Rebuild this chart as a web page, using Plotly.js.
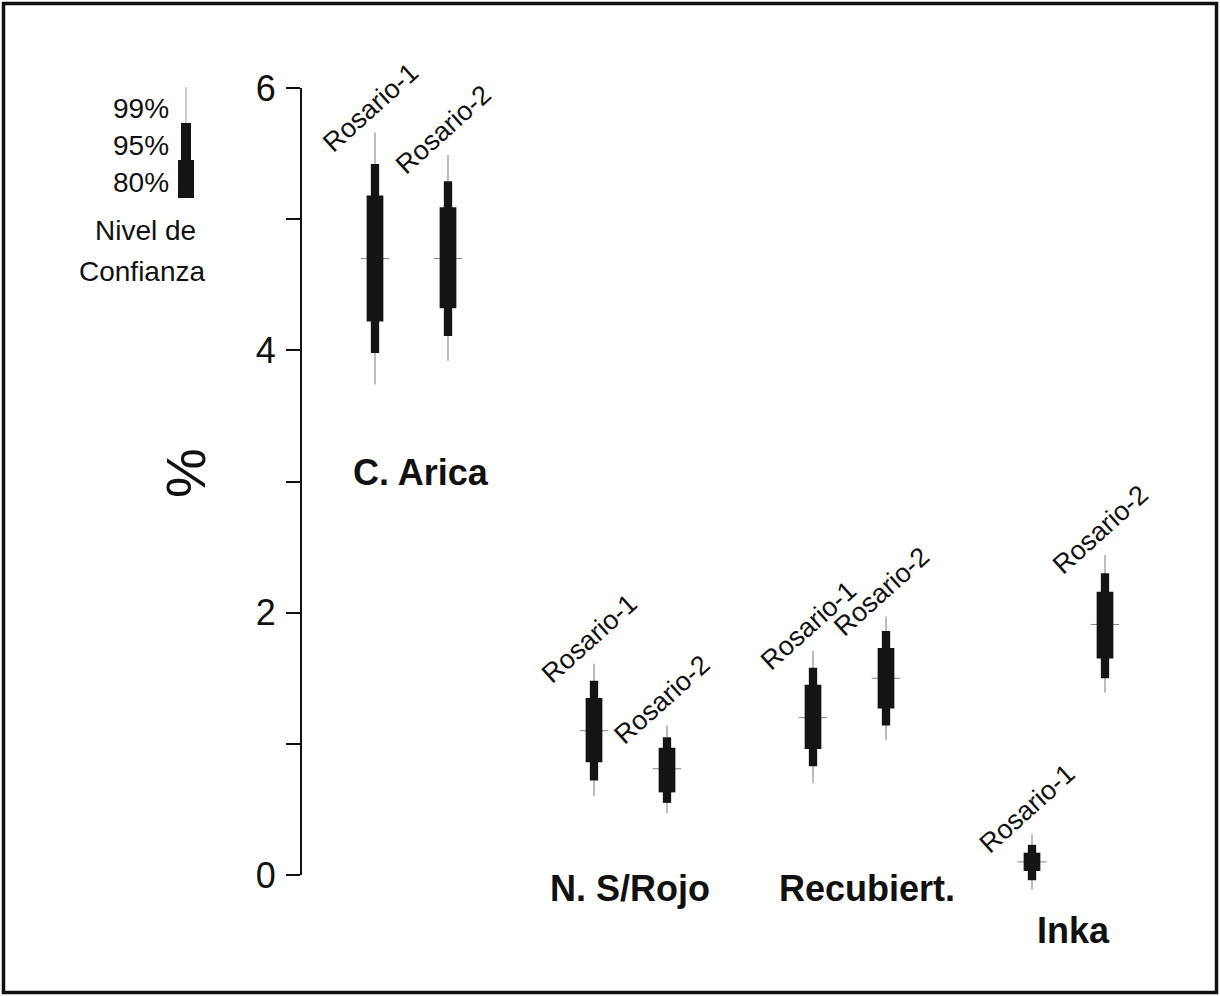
<!DOCTYPE html>
<html>
<head>
<meta charset="utf-8">
<script src="https://cdn.plot.ly/plotly-3.0.1.min.js"></script>
<style>
html,body{margin:0;padding:0;background:#fff;}
#chart{width:1220px;height:996px;}
</style>
</head>
<body>
<div id="chart"></div>
<script>
// ---- data ----
const groups = ['C. Arica', 'N. S/Rojo', 'Recubiert.', 'Inka'];
const samples = ['Rosario-1', 'Rosario-2'];
const yTickVals = [0, 1, 2, 3, 4, 5, 6];
const yTickText = ['0', '', '2', '', '4', '', '6'];
// order: C.Arica R1, R2, N.S/Rojo R1, R2, Recubiert R1, R2, Inka R1, R2
const median = [4.70, 4.70, 1.10, 0.81, 1.20, 1.50, 0.10, 1.91];
const lo80   = [4.22, 4.32, 0.86, 0.63, 0.96, 1.27, 0.03, 1.65];
const hi80   = [5.18, 5.09, 1.35, 0.97, 1.45, 1.73, 0.17, 2.16];
const lo95   = [3.98, 4.11, 0.72, 0.55, 0.83, 1.14, -0.04, 1.50];
const hi95   = [5.42, 5.29, 1.48, 1.05, 1.58, 1.86, 0.23, 2.30];
const lo99   = [3.74, 3.92, 0.60, 0.47, 0.70, 1.03, -0.11, 1.39];
const hi99   = [5.66, 5.49, 1.61, 1.14, 1.71, 1.97, 0.31, 2.44];
const legendLevels = ['99%', '95%', '80%'];

// ---- layout geometry ----
const W = 1220, H = 996;
const M = {l: 301, r: 20, t: 48, b: 82};
const pw = W - M.l - M.r, ph = H - M.t - M.b;
const xRange = [-1.0137, 11.3014];
const yRange = [-0.29733, 6.30495];
const FONT = 'Liberation Sans, Arial, sans-serif';
const px2pX = p => (p - M.l) / pw;
const px2pY = p => (H - M.b - p) / ph;

const xPos = [];
const labels = [];
groups.forEach((g, gi) => samples.forEach((s, si) => { xPos.push(gi * 3 + si); labels.push(s); }));

const diff = (a, b) => a.map((v, i) => v - b[i]);
const baseBar = {type: 'bar', x: xPos, hoverinfo: 'skip', showlegend: false};
const traces = [
  Object.assign({}, baseBar, {base: lo99, y: diff(hi99, lo99), width: 0.018, marker: {color: '#9a9a9a', line: {width: 0}}}),
  Object.assign({}, baseBar, {base: median.map(v => v - 0.004), y: median.map(() => 0.008), width: 0.39, marker: {color: '#8a8a8a', line: {width: 0}}}),
  Object.assign({}, baseBar, {base: lo95, y: diff(hi95, lo95), width: 0.114, marker: {color: '#141414', line: {width: 0}}}),
  Object.assign({}, baseBar, {base: lo80, y: diff(hi80, lo80), width: 0.229, marker: {color: '#141414', line: {width: 0}}})
];

const annotations = [];
// sample labels
xPos.forEach((x, i) => {
  annotations.push({xref: 'x', yref: 'y', x: x, y: hi99[i], text: labels[i], showarrow: false,
    textangle: -42, xanchor: 'center', yanchor: 'middle', xshift: -5, yshift: 25,
    font: {family: FONT, size: 27, color: '#111'}});
});
// group labels
const groupPx = [[421, 472], [630, 888], [867, 888], [1073, 930]];
groups.forEach((g, gi) => {
  annotations.push({xref: 'paper', yref: 'paper', x: px2pX(groupPx[gi][0]), y: px2pY(groupPx[gi][1]),
    text: '<b>' + g + '</b>', showarrow: false, xanchor: 'center', yanchor: 'middle',
    font: {family: FONT, size: 36, color: '#111'}});
});
// y title
annotations.push({xref: 'paper', yref: 'paper', x: px2pX(185), y: px2pY(473), text: '%', showarrow: false,
  textangle: -90, xanchor: 'center', yanchor: 'middle', font: {family: FONT, size: 56, color: '#111'}});
// legend labels
const legY = [109, 146, 182];
legendLevels.forEach((t, i) => {
  annotations.push({xref: 'paper', yref: 'paper', x: px2pX(171), y: px2pY(legY[i]), text: t, showarrow: false,
    xanchor: 'right', yanchor: 'middle', font: {family: FONT, size: 28, color: '#111'}});
});
annotations.push({xref: 'paper', yref: 'paper', x: px2pX(145), y: px2pY(231), text: 'Nivel de', showarrow: false,
  xanchor: 'center', yanchor: 'middle', font: {family: FONT, size: 28, color: '#111'}});
annotations.push({xref: 'paper', yref: 'paper', x: px2pX(142), y: px2pY(271), text: 'Confianza', showarrow: false,
  xanchor: 'center', yanchor: 'middle', font: {family: FONT, size: 28, color: '#111'}});

const shapes = [
  // y axis line
  {type: 'line', xref: 'paper', yref: 'y', x0: 0, x1: 0, y0: 0, y1: 6, line: {color: '#111', width: 2}},
  // legend key
  {type: 'line', xref: 'paper', yref: 'paper', x0: px2pX(186), x1: px2pX(186), y0: px2pY(87), y1: px2pY(124), line: {color: '#9a9a9a', width: 1}},
  {type: 'rect', xref: 'paper', yref: 'paper', x0: px2pX(181), x1: px2pX(191), y0: px2pY(123), y1: px2pY(161), fillcolor: '#141414', line: {width: 0}},
  {type: 'rect', xref: 'paper', yref: 'paper', x0: px2pX(178), x1: px2pX(194), y0: px2pY(160), y1: px2pY(198), fillcolor: '#141414', line: {width: 0}},
  // frame
  {type: 'rect', xref: 'paper', yref: 'paper', x0: px2pX(3.5), x1: px2pX(1216.5), y0: px2pY(3.5), y1: px2pY(992.5), line: {color: '#111', width: 3.5}, fillcolor: 'rgba(0,0,0,0)'}
];

const layout = {
  width: W, height: H,
  margin: Object.assign({}, M, {autoexpand: false}),
  paper_bgcolor: '#fff', plot_bgcolor: '#fff',
  barmode: 'overlay',
  showlegend: false,
  xaxis: {range: xRange, visible: false, fixedrange: true},
  yaxis: {range: yRange, tickvals: yTickVals, ticktext: yTickText, ticks: 'outside', ticklen: 14, tickwidth: 2,
    tickcolor: '#111', showgrid: false, zeroline: false, showline: false, ticklabelstandoff: 3,
    tickfont: {family: FONT, size: 36, color: '#111'}, fixedrange: true},
  annotations: annotations,
  shapes: shapes
};

Plotly.newPlot('chart', traces, layout, {displayModeBar: false, staticPlot: true});
</script>
</body>
</html>
